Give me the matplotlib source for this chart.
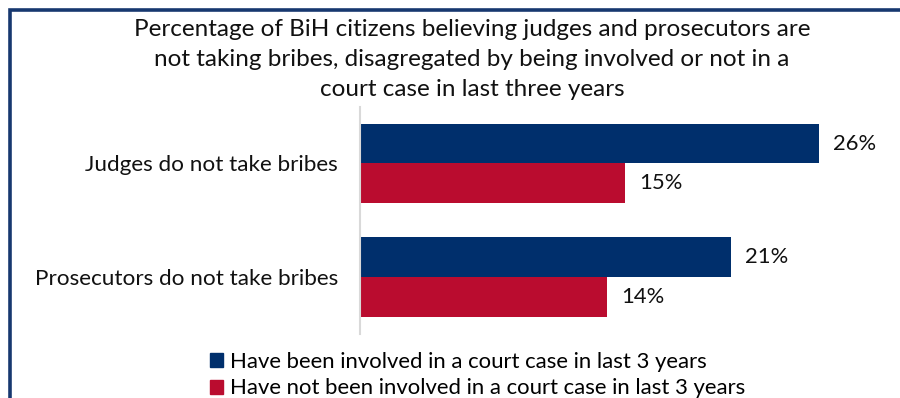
import matplotlib.pyplot as plt
from matplotlib.patches import Rectangle, Patch

categories = ["Judges do not take bribes", "Prosecutors do not take bribes"]
involved = [26, 21]
not_involved = [15, 14]
series_labels = ["Have been involved in a court case in last 3 years",
                 "Have not been involved in a court case in last 3 years"]
title = ("Percentage of BiH citizens believing judges and prosecutors are\n"
         "not taking bribes, disagregated by being involved or not in a\n"
         "court case in last three years")

navy = "#002F6C"
red = "#BA0C2F"
text_col = "#111111"
plt.rcParams['font.family'] = ['Lato', 'DejaVu Sans']

fig = plt.figure(figsize=(9, 3.98), dpi=100)
W, H = 900, 398

# outer frame, runs off the right and bottom edges
fig.patches.append(Rectangle((10 / W, -0.1), 1.0, (H - 10) / H + 0.1,
                             transform=fig.transFigure, fill=False,
                             edgecolor="#17386F", linewidth=2.6))

ax = fig.add_axes([360 / W, 64.25 / H, 529.6 / W, 0.5704])
pos = list(range(len(categories)))
h = 0.352
ax.barh([p - h / 2 for p in pos], involved, height=h, color=navy)
ax.barh([p + h / 2 for p in pos], not_involved, height=h, color=red)

for p, v in zip(pos, involved):
    ax.text(v + 0.8, p - h / 2, f"{v}%", va="center", ha="left", fontsize=15.8, color=text_col)
for p, v in zip(pos, not_involved):
    ax.text(v + 0.8, p + h / 2, f"{v}%", va="center", ha="left", fontsize=15.8, color=text_col)

ax.set_xlim(0, 30)
ax.set_ylim(1.5, -0.5)
ax.set_yticks(pos)
ax.set_yticklabels(categories, fontsize=16.2, color=text_col)
ax.tick_params(axis="y", length=0, pad=16)
ax.set_xticks([])
for s in ["top", "right", "bottom"]:
    ax.spines[s].set_visible(False)
ax.spines["left"].set_color("#D9D9D9")
ax.spines["left"].set_linewidth(1.5)

fig.text(472 / W, 1 - 19 / H, title, ha="center", va="top", fontsize=17.5,
         color=text_col, linespacing=1.52)

handles = [Patch(color=navy), Patch(color=red)]
fig.legend(handles, series_labels, loc="upper left",
           bbox_to_anchor=(201 / W, 1 - 343 / H), frameon=False,
           fontsize=15.9, handlelength=0.6, handleheight=0.6,
           handletextpad=0.3, labelspacing=0.3, borderaxespad=0)

fig.savefig("out.png", dpi=100)
